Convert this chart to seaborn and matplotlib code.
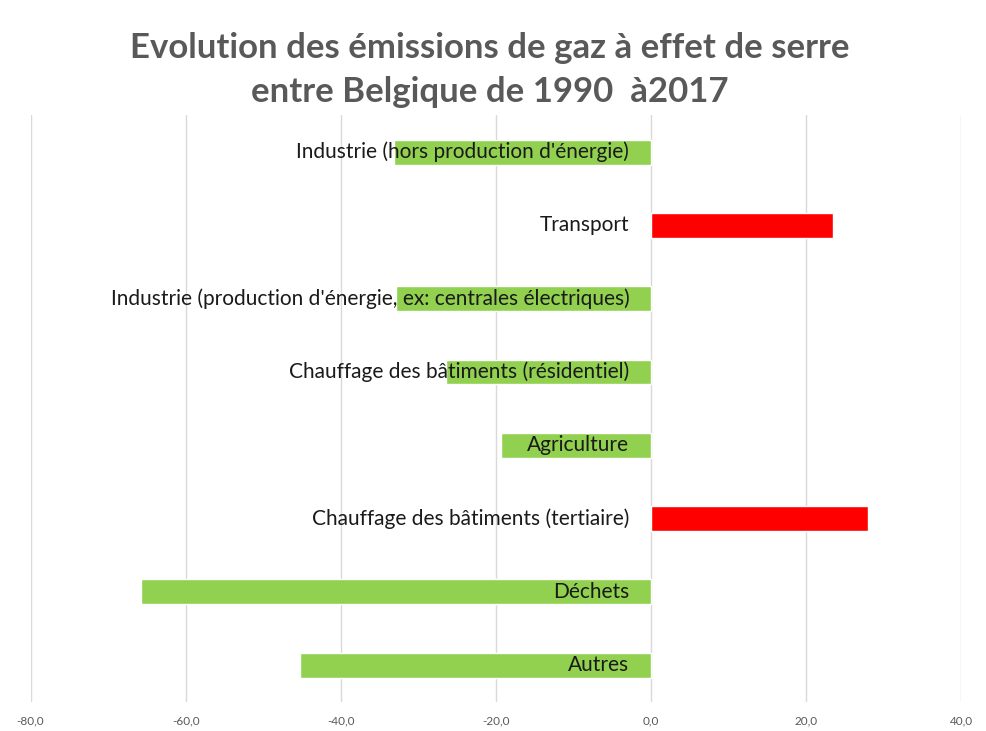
import numpy as np
import pandas as pd
import matplotlib
matplotlib.use("Agg")
import matplotlib.pyplot as plt
import seaborn as sns

# Data (% change 1990 -> 2017)
sectors = [
    "Industrie (hors production d'énergie)",
    "Transport",
    "Industrie (production d'énergie, ex: centrales électriques)",
    "Chauffage des bâtiments (résidentiel)",
    "Agriculture",
    "Chauffage des bâtiments (tertiaire)",
    "Déchets",
    "Autres",
]
changes = [-33.2, 23.4, -32.9, -26.5, -19.4, 28.0, -65.8, -45.3]
x_ticks = [-80, -60, -40, -20, 0, 20, 40]

df = pd.DataFrame({"sector": sectors, "change": changes})
df["sign"] = np.where(df["change"] < 0, "neg", "pos")

sns.set_style("white")
plt.rcParams["font.family"] = ["Lato", "DejaVu Sans"]

fig = plt.figure(figsize=(9.86, 7.31), dpi=100)
ax = fig.add_axes([0.031, 0.040, 0.944, 0.802])

sns.barplot(data=df, y="sector", x="change", hue="sign",
            palette={"neg": "#92D050", "pos": "#FF0000"},
            order=sectors, width=0.34, dodge=False, legend=False,
            saturation=1, ax=ax)

ax.set_xlim(-80, 40)
ax.set_xticks(x_ticks)
ax.set_xticklabels([f"{v:.1f}".replace(".", ",") for v in x_ticks],
                   fontsize=8.5, color="#595959")
ax.tick_params(axis="x", length=0, pad=10)
ax.set_yticks([])
ax.set_xlabel("")
ax.set_ylabel("")
ax.grid(axis="x", color="#D9D9D9", linewidth=1)
ax.set_axisbelow(True)
for s in ax.spines.values():
    s.set_visible(False)

# category labels, right-aligned just left of zero
for i, name in enumerate(sectors):
    ax.text(-2.8, i, name, ha="right", va="center", fontsize=15,
            color="#1a1a1a")

fig.text(0.497, 0.904, "Evolution des émissions de gaz à effet de serre\nentre Belgique de 1990  à2017",
         ha="center", va="center", fontsize=25, fontweight="bold",
         color="#595959", linespacing=1.45)

fig.savefig("out.png", dpi=100)
